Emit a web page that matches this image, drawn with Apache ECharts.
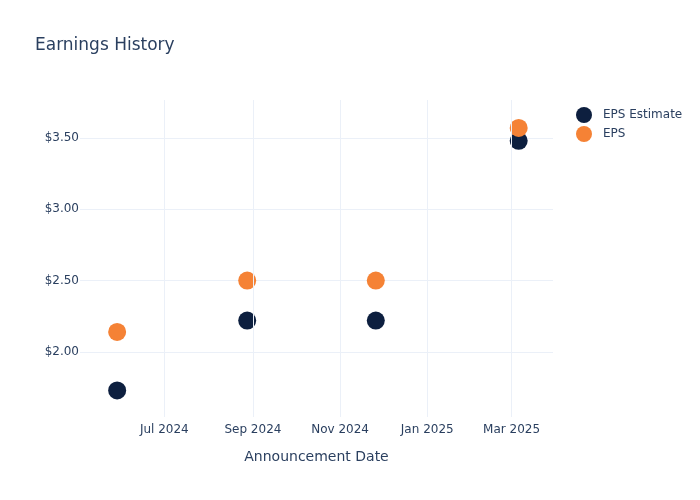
<!DOCTYPE html>
<html lang="en" style="height: 100%">
<head>
  <meta charset="utf-8">
</head>
<body style="height: 100%; margin: 0; background: #fff">
  <div id="container" style="width: 700px; height: 500px"></div>

  <script type="text/javascript" src="https://fastly.jsdelivr.net/npm/echarts@6/dist/echarts.min.js"></script>

  <script type="text/javascript">
    var dates = ['2024-05-29', '2024-08-28', '2024-11-26', '2025-03-06'];
    var epsEstimate = [1.73, 2.22, 2.22, 3.48];
    var eps = [2.14, 2.50, 2.50, 3.57];
    var tickDates = ['2024-07-01', '2024-09-01', '2024-11-01', '2025-01-01', '2025-03-01'];
    var tickLabels = ['Jul 2024', 'Sep 2024', 'Nov 2024', 'Jan 2025', 'Mar 2025'];

    var textColor = '#2a3f5f';
    var gridColor = '#ebf0f8';
    var font = 'DejaVu Sans';

    var dom = document.getElementById('container');
    var myChart = echarts.init(dom, null, { renderer: 'canvas' });

    function pairs(values) {
      return values.map(function (v, i) { return [dates[i], v]; });
    }

    var option = {
      backgroundColor: '#fff',
      animation: false,
      textStyle: { fontFamily: font },
      title: {
        text: 'Earnings History',
        left: 30,
        top: 32,
        textStyle: { color: textColor, fontSize: 17, fontWeight: 'normal', fontFamily: font }
      },
      legend: {
        orient: 'vertical',
        left: 571,
        top: 102,
        itemWidth: 28,
        itemHeight: 16,
        itemGap: 3,
        icon: 'circle',
        textStyle: { color: textColor, fontSize: 12, fontFamily: font },
        data: ['EPS Estimate', 'EPS']
      },
      grid: { left: 80, right: 147, top: 100, bottom: 83 },
      xAxis: {
        type: 'time',
        min: '2024-05-03',
        max: '2025-03-30',
        name: 'Announcement Date',
        nameLocation: 'middle',
        nameGap: 33,
        nameTextStyle: { color: textColor, fontSize: 14, fontFamily: font },
        axisLine: { show: false },
        axisTick: { show: false },
        axisLabel: { show: false },
        splitLine: { show: false }
      },
      yAxis: {
        type: 'value',
        min: 1.544,
        max: 3.766,
        splitNumber: 5,
        axisLine: { show: false },
        axisTick: { show: false },
        axisLabel: {
          color: textColor,
          fontSize: 12,
          fontFamily: font,
          margin: 1,
          showMinLabel: false,
          showMaxLabel: false,
          formatter: function (v) { return '$' + v.toFixed(2); }
        },
        splitLine: {
          lineStyle: { color: ['rgba(0,0,0,0)', gridColor, gridColor, gridColor, gridColor, 'rgba(0,0,0,0)'], width: 1 }
        }
      },
      series: [
        {
          name: 'grid',
          type: 'line',
          data: [],
          silent: true,
          markLine: {
            silent: true,
            symbol: 'none',
            animation: false,
            lineStyle: { color: gridColor, type: 'solid', width: 1 },
            label: {
              position: 'start',
              distance: 7,
              color: textColor,
              fontSize: 12,
              fontFamily: font,
              formatter: function (p) { return p.name; }
            },
            emphasis: { disabled: true },
            data: tickDates.map(function (d, i) { return { xAxis: d, name: tickLabels[i] }; })
          }
        },
        {
          name: 'EPS Estimate',
          type: 'scatter',
          symbolSize: 18,
          itemStyle: { color: '#0d1f3f', opacity: 1 },
          data: pairs(epsEstimate)
        },
        {
          name: 'EPS',
          type: 'scatter',
          symbolSize: 18,
          itemStyle: { color: '#f58235', opacity: 1 },
          data: pairs(eps)
        }
      ]
    };

    myChart.setOption(option);
    window.addEventListener('resize', myChart.resize);
  </script>
</body>
</html>
